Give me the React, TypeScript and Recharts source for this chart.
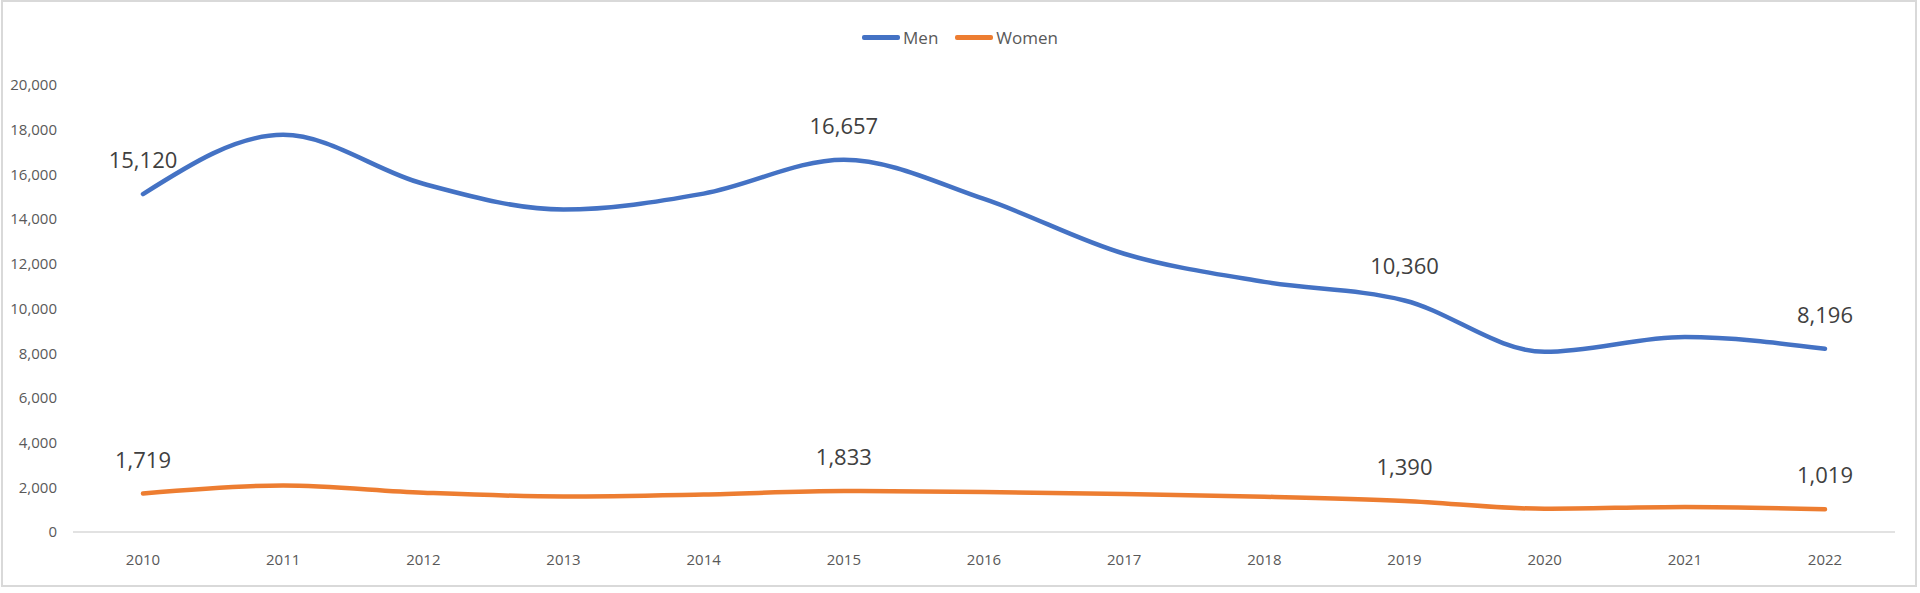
import { Legend, Line, LineChart, XAxis, YAxis } from 'recharts';

const YEARS = ['2010', '2011', '2012', '2013', '2014', '2015', '2016', '2017', '2018', '2019', '2020', '2021', '2022'];
const MEN = [15120, 17770, 15580, 14430, 15140, 16657, 14900, 12450, 11190, 10360, 8060, 8720, 8196];
const WOMEN = [1719, 2080, 1760, 1590, 1680, 1833, 1790, 1700, 1580, 1390, 1040, 1120, 1019];
const Y_TICKS = [0, 2000, 4000, 6000, 8000, 10000, 12000, 14000, 16000, 18000, 20000];
const LABELLED_YEARS = ['2010', '2015', '2019', '2022'];

const SERIES = [
  { key: 'men', name: 'Men', color: '#4472C4' },
  { key: 'women', name: 'Women', color: '#ED7D31' },
];

const data = YEARS.map((year, i) => ({ year, men: MEN[i], women: WOMEN[i] }));

const FONT = '"Open Sans", sans-serif';
const fmt = (v: number) => v.toLocaleString('en-US');

function PointLabel(props: any) {
  const { x, y, value, index } = props;
  if (!LABELLED_YEARS.includes(YEARS[index])) return null;
  return (
    <text x={x} y={y - 26} textAnchor="middle" fontSize={22} fill="#404040" fontFamily={FONT}>
      {fmt(value)}
    </text>
  );
}

function LegendContent() {
  return (
    <div style={{ display: 'flex', justifyContent: 'center', alignItems: 'center', height: 30, fontFamily: FONT }}>
      {SERIES.map((s, i) => (
        <div key={s.key} style={{ display: 'flex', alignItems: 'center', marginLeft: i ? 17 : 0 }}>
          <span style={{ display: 'inline-block', width: 38, height: 5, borderRadius: 2, background: s.color }} />
          <span style={{ fontSize: 17, color: '#595959', marginLeft: 3 }}>{s.name}</span>
        </div>
      ))}
    </div>
  );
}

export default function App() {
  return (
    <div style={{ position: 'absolute', left: 0, top: 0, width: 1920, height: 593, background: '#fff' }}>
      <div
        style={{
          position: 'absolute',
          left: 1,
          top: 0,
          width: 1912,
          height: 583,
          border: '2px solid #d9d9d9',
          pointerEvents: 'none',
        }}
      />
      <LineChart width={1920} height={593} data={data} margin={{ top: 55, right: 25, left: 0, bottom: 21 }}>
        <Legend
          verticalAlign="top"
          content={<LegendContent />}
          wrapperStyle={{ top: 22, left: 0, width: 1920, height: 30 }}
        />
        <XAxis
          dataKey="year"
          height={40}
          padding={{ left: 70, right: 70 }}
          tickLine={false}
          tickSize={0}
          tickMargin={22}
          axisLine={{ stroke: '#d9d9d9', strokeWidth: 1.5 }}
          tick={{ fontSize: 15, fill: '#595959', fontFamily: FONT }}
        />
        <YAxis
          width={73}
          domain={[0, 20000]}
          ticks={Y_TICKS}
          tickFormatter={fmt}
          axisLine={false}
          tickLine={false}
          tickSize={0}
          tickMargin={16}
          tick={{ fontSize: 15, fill: '#595959', fontFamily: FONT }}
        />
        {SERIES.map((s) => (
          <Line
            key={s.key}
            type="monotone"
            dataKey={s.key}
            name={s.name}
            stroke={s.color}
            strokeWidth={4.5}
            strokeLinecap="round"
            dot={false}
            activeDot={false}
            label={<PointLabel />}
            isAnimationActive={false}
          />
        ))}
      </LineChart>
    </div>
  );
}
